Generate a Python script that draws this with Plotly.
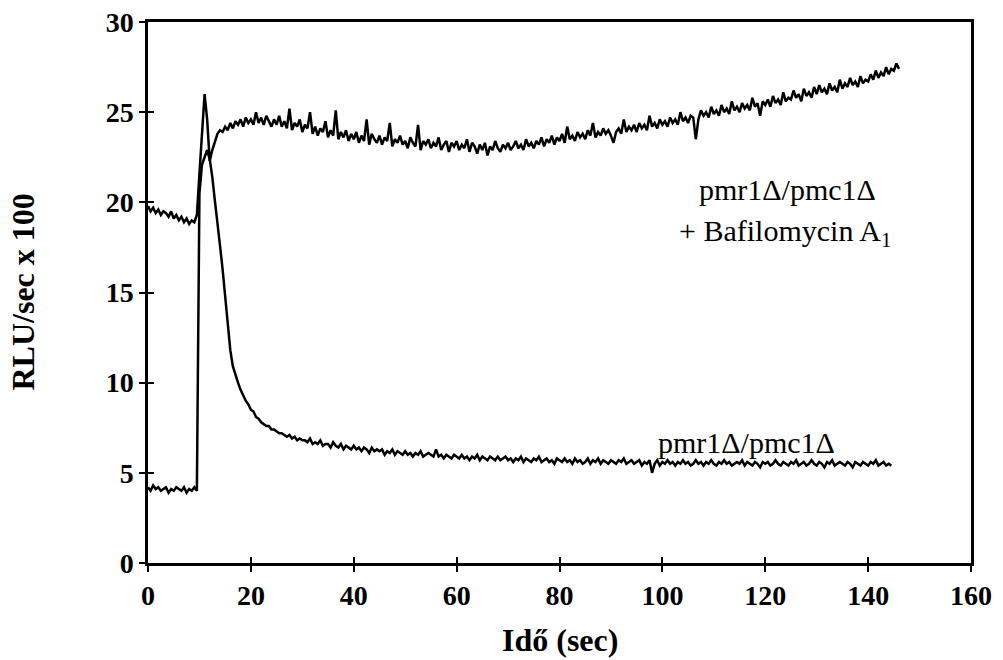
import plotly.graph_objects as go

# Bafilomycin-treated trace, sampled every 0.5 s from t = 0
bafilomycin_rlu = [
    19.8, 19.5, 19.7, 19.4, 19.6, 19.3, 19.5, 19.4, 19.2, 19.5,
    19.1, 19.3, 19.0, 19.2, 18.9, 19.1, 18.8, 19.0, 18.9, 19.3,
    21.6, 23.8, 26.0, 24.6, 22.3, 22.9, 23.4, 23.8, 24.0, 23.9,
    24.2, 24.0, 24.4, 24.1, 24.5, 24.3, 24.6, 24.2, 24.7, 24.4,
    24.6, 24.3, 25.0, 24.4, 24.7, 24.3, 24.8, 24.5, 24.2, 24.6,
    24.3, 24.8, 24.2, 24.5, 24.1, 25.2, 24.0, 24.4, 24.2, 24.6,
    23.9, 24.3, 24.1, 25.0, 23.8, 24.2, 23.7, 24.1, 23.9, 24.5,
    23.6, 24.0, 23.7, 25.1, 23.5, 23.9, 23.6, 24.0, 23.4, 23.8,
    23.5, 23.9, 23.3, 23.7, 23.4, 24.6, 23.2, 23.8, 23.5, 23.3,
    23.7, 23.2, 23.6, 23.4, 24.4, 23.1, 23.5, 23.3, 23.7, 23.2,
    23.4, 23.0, 23.6, 23.3, 23.1, 24.3, 22.9, 23.4, 23.2, 23.5,
    23.0, 23.3, 23.1, 23.6, 22.9, 23.2, 23.4, 22.8, 23.3, 23.1,
    23.4, 22.9, 23.2, 23.0, 23.5, 22.8, 23.3, 23.1, 22.7, 23.2,
    22.9, 23.3, 22.6, 23.1, 22.9, 23.4, 23.0, 22.8, 23.2, 23.0,
    23.3, 22.9, 23.1, 23.4, 23.0, 23.2, 22.9, 23.5, 23.1, 23.3,
    23.0, 23.4, 23.2, 23.6, 23.1, 23.5, 23.3, 23.7, 23.2, 23.6,
    23.4, 23.8, 23.3, 24.2, 23.5, 23.7, 23.4, 23.9, 23.6, 23.8,
    23.5, 24.0, 23.7, 24.4, 23.6, 23.9, 23.7, 24.1, 23.8, 24.0,
    23.7, 23.3, 23.9, 24.1, 23.8, 24.6, 23.9, 24.2, 24.0, 24.3,
    23.9, 24.4, 24.1, 24.3, 24.0, 24.8, 24.2, 24.4, 24.1, 24.6,
    24.3, 24.5, 24.2, 24.7, 24.4, 24.6, 24.3, 25.0, 24.5, 24.7,
    24.4, 24.8, 24.7, 23.5, 24.6, 25.1, 24.8, 25.0, 24.7, 25.3,
    24.9, 25.1, 24.8, 25.4, 25.0, 25.2, 24.9, 25.6, 25.1, 25.3,
    25.0, 25.5, 25.2, 25.4, 25.1, 25.8, 25.3, 25.5, 24.8, 25.6,
    25.4, 25.7, 25.3, 25.9, 25.5, 25.7, 25.4, 26.1, 25.6, 25.8,
    25.7, 26.2, 25.8, 26.0, 25.6, 26.3, 25.9, 26.1, 25.8, 26.4,
    26.0, 26.5, 26.1, 26.3, 26.0, 26.6, 26.2, 26.4, 26.1, 26.8,
    26.3, 26.6, 26.4, 26.9, 26.5, 26.7, 26.4, 27.0, 26.6, 26.8,
    26.7, 27.1, 26.8, 27.3, 26.9, 27.2, 27.0, 27.5, 27.1, 27.4,
    27.3, 27.7, 27.4,
]

# Untreated mutant trace, sampled every 0.5 s from t = 0
mutant_rlu = [
    4.2, 4.0, 4.3, 4.1, 4.2, 4.0, 4.1, 4.2, 3.9, 4.1,
    4.0, 4.2, 4.1, 4.0, 4.2, 3.9, 4.1, 4.0, 4.2, 4.0,
    20.5, 22.1, 22.5, 22.9, 22.4, 21.4, 20.1, 19.0, 17.6, 16.3,
    14.8, 13.2, 11.8, 10.9, 10.4, 10.0, 9.6, 9.3, 9.0, 8.8,
    8.5, 8.4, 8.1, 8.0, 7.8, 7.7, 7.6, 7.6, 7.4, 7.4,
    7.3, 7.2, 7.2, 7.1, 7.0, 7.1, 6.9, 7.0, 6.8, 6.9,
    6.8, 6.8, 6.7, 6.9, 6.6, 6.7, 6.6, 6.8, 6.5, 6.6,
    6.6, 6.4, 6.7, 6.5, 6.4, 6.6, 6.3, 6.5, 6.4, 6.3,
    6.5, 6.3, 6.4, 6.2, 6.4, 6.3, 6.1, 6.4, 6.2, 6.3,
    6.2, 6.3, 6.0, 6.2, 6.1, 6.3, 6.0, 6.2, 6.1, 6.0,
    6.2, 6.0, 6.1, 5.9, 6.1, 6.0, 6.2, 5.9, 6.0, 6.1,
    6.0, 5.9, 6.3, 5.9, 6.0, 5.8, 6.0, 5.9, 5.8, 6.0,
    5.9, 5.8, 6.0, 5.8, 5.9, 5.7, 5.9, 5.8, 6.0, 5.7,
    5.9, 5.8, 5.7, 5.9, 5.8, 5.7, 5.9, 5.7, 5.8, 5.9,
    5.7, 5.8, 5.6, 5.8, 5.7, 5.9, 5.6, 5.8, 5.7, 5.6,
    5.8, 5.7, 5.9, 5.6, 5.7, 5.8, 5.6, 5.7, 5.5, 5.8,
    5.7, 5.6, 5.8, 5.6, 5.7, 5.5, 5.8, 5.6, 5.7, 5.5,
    5.6, 5.8, 5.5, 5.7, 5.6, 5.8, 5.5, 5.7, 5.6, 5.5,
    5.7, 5.6, 5.5, 5.7, 5.6, 5.8, 5.5, 5.6, 5.7, 5.5,
    5.6, 5.7, 5.4, 5.6, 5.5, 5.7, 5.0, 5.5, 5.7, 5.4,
    5.6, 5.5, 5.7, 5.5, 5.6, 5.4, 5.6, 5.5, 5.7, 5.5,
    5.6, 5.4, 5.5, 5.7, 5.5, 5.6, 5.4, 5.6, 5.5, 5.7,
    5.5, 5.4, 5.6, 5.5, 5.7, 5.5, 5.6, 5.4, 5.5, 5.6,
    5.5, 5.7, 5.4, 5.6, 5.5, 5.4, 5.6, 5.5, 5.3, 5.6,
    5.5, 5.6, 5.4, 5.5, 5.7, 5.5, 5.4, 5.6, 5.5, 5.4,
    5.6, 5.5, 5.7, 5.4, 5.5, 5.6, 5.4, 5.5, 5.7, 5.5,
    5.4, 5.6, 5.5, 5.3, 5.6, 5.5, 5.7, 5.4, 5.5, 5.6,
    5.5, 5.4, 5.6, 5.5, 5.3, 5.6, 5.5, 5.4, 5.6, 5.5,
    5.4, 5.6, 5.5, 5.7, 5.4, 5.5, 5.6, 5.4, 5.5, 5.4,
]

sample_interval_s = 0.5
bafilomycin_time = [i * sample_interval_s for i in range(len(bafilomycin_rlu))]
mutant_time = [i * sample_interval_s for i in range(len(mutant_rlu))]

x_ticks = [0, 20, 40, 60, 80, 100, 120, 140, 160]
y_ticks = [0, 5, 10, 15, 20, 25, 30]

label_upper_1 = "pmr1Δ/pmc1Δ"
label_upper_2 = "+ Bafilomycin A<sub>1</sub>"
label_lower = "pmr1Δ/pmc1Δ"
x_title = "Idő (sec)"
y_title = "RLU/sec x 100"

SERIF = "Liberation Serif, Times New Roman, serif"

fig = go.Figure()
fig.add_trace(go.Scatter(x=bafilomycin_time, y=bafilomycin_rlu, mode="lines",
                         line=dict(color="black", width=2.5), showlegend=False))
fig.add_trace(go.Scatter(x=mutant_time, y=mutant_rlu, mode="lines",
                         line=dict(color="black", width=2.5), showlegend=False))

axis_common = dict(showgrid=False, zeroline=False, showline=True, linecolor="black",
                   linewidth=2.5, ticks="outside", ticklen=6, tickwidth=2, tickcolor="black",
                   automargin=False,
                   tickfont=dict(family=SERIF, size=28, color="black", weight="bold"))

fig.update_layout(
    width=1003, height=660,
    margin=dict(l=148, r=32, t=22, b=97),
    paper_bgcolor="white", plot_bgcolor="white",
    xaxis=dict(range=[0, 160], tickvals=x_ticks, mirror=True, **axis_common),
    yaxis=dict(range=[0, 30], tickvals=y_ticks, mirror=True, **axis_common),
    xaxis2=dict(overlaying="x", matches="x", range=[0, 160], tickvals=x_ticks, showticklabels=False,
                ticks="inside", ticklen=6, tickwidth=2, tickcolor="black", showgrid=False,
                zeroline=False, showline=False, automargin=False),
    yaxis2=dict(overlaying="y", matches="y", range=[0, 30], tickvals=y_ticks, showticklabels=False,
                ticks="inside", ticklen=6, tickwidth=2, tickcolor="black", showgrid=False,
                zeroline=False, showline=False, automargin=False),
)

# invisible trace to activate the inside-tick axes
fig.add_trace(go.Scatter(x=[None], y=[None], xaxis="x2", yaxis="y2", showlegend=False,
                         hoverinfo="skip"))

title_font = dict(family=SERIF, size=32, color="black", weight="bold")
# axis titles, placed in paper coordinates relative to the plot area
fig.add_annotation(x=0.5, y=0, xref="paper", yref="paper", yshift=-77, text=x_title,
                   showarrow=False, font=title_font, xanchor="center", yanchor="middle")
fig.add_annotation(x=0, y=0.5, xref="paper", yref="paper", xshift=-126, text=y_title,
                   showarrow=False, font=title_font, textangle=-90,
                   xanchor="center", yanchor="middle")

ann_font = dict(family=SERIF, size=30, color="black")
fig.add_annotation(x=124.4, y=20.7, text=label_upper_1, showarrow=False, font=ann_font)
fig.add_annotation(x=123.8, y=18.3, text=label_upper_2, showarrow=False, font=ann_font)
fig.add_annotation(x=116.4, y=6.7, text=label_lower, showarrow=False, font=ann_font)

fig.write_html("out.html")
